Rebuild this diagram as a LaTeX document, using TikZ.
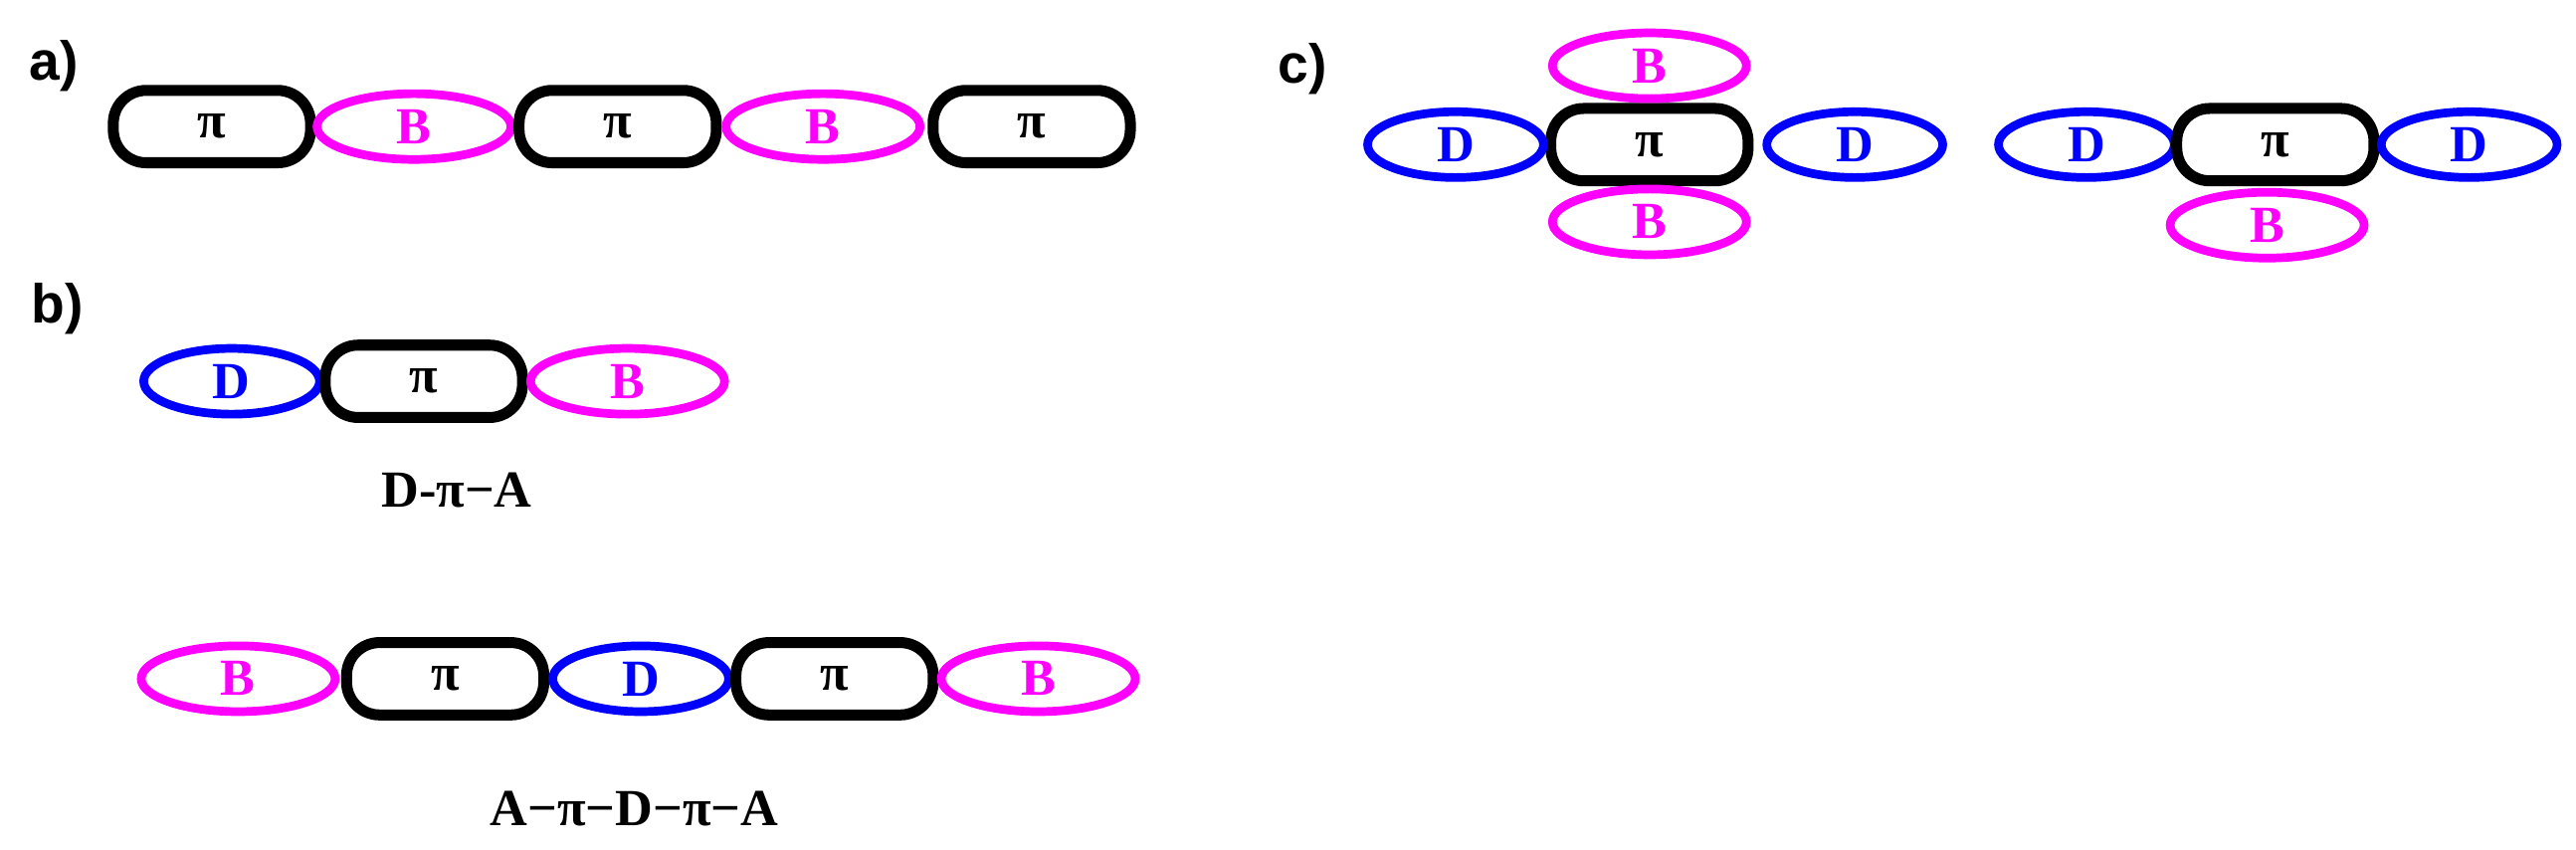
\documentclass[tikz,border=0pt]{standalone}
\usepackage{fontspec}
\setmainfont{Liberation Serif}
\newfontfamily\lsans{Liberation Sans}
\usetikzlibrary{shapes.geometric}
\definecolor{mag}{RGB}{255,0,255}
\begin{document}
\begin{tikzpicture}[x=0.01cm,y=-0.01cm,
 pi/.style={draw=black,line width=1.9pt,rounded corners=0.2cm,minimum width=1.20cm,minimum height=0.44cm,inner sep=0pt,font=\bfseries\fontsize{9}{9}\selectfont},
 ell/.style={ellipse,line width=1.5pt,minimum height=0.40cm,inner sep=0pt,font=\bfseries\fontsize{9}{9}\selectfont},
 B/.style={ell,draw=mag,text=mag,minimum width=1.18cm},
 D/.style={ell,draw=blue,text=blue,minimum width=1.07cm},
 lab/.style={font=\lsans\bfseries\fontsize{9.5}{9.5}\selectfont},
 captxt/.style={font=\bfseries\fontsize{9}{9}\selectfont}]
\useasboundingbox (0,0) rectangle (1568,517);
\node[lab] (la) at (33,40) {a)};
\node[lab] (lb) at (35,188) {b)};
\node[lab] (lc) at (793,42) {c)};
% a
\node[pi] (a1) at (129,77) {π};
\node[B] (a2) at (252,77) {B};
\node[pi] (a3) at (376,77) {π};
\node[B] (a4) at (501,77) {B};
\node[pi] (a5) at (628,77) {π};
% b
\node[D] (b1) at (141,232) {D};
\node[pi] (b2) at (258,232) {π};
\node[B] (b3) at (382,232) {B};
\node[captxt] (bl1) at (278,298) {D-π−A};
\node[B] (c1) at (145,413) {B};
\node[pi] (c2) at (271,413) {π};
\node[D] (c3) at (390,413) {D};
\node[pi] (c4) at (508,413) {π};
\node[B] (c5) at (632,413) {B};
\node[captxt] (bl2) at (386,492) {A−π−D−π−A};
% c
\node[pi] (d1) at (1004,88) {π};
\node[B] (d2) at (1004,40) {B};
\node[B] (d3) at (1004,135) {B};
\node[D] (d4) at (886,88) {D};
\node[D] (d5) at (1129,88) {D};
\node[D] (e1) at (1270,88) {D};
\node[pi] (e2) at (1385,88) {π};
\node[D] (e3) at (1503,88) {D};
\node[B] (e4) at (1380,137) {B};
\end{tikzpicture}
\end{document}
